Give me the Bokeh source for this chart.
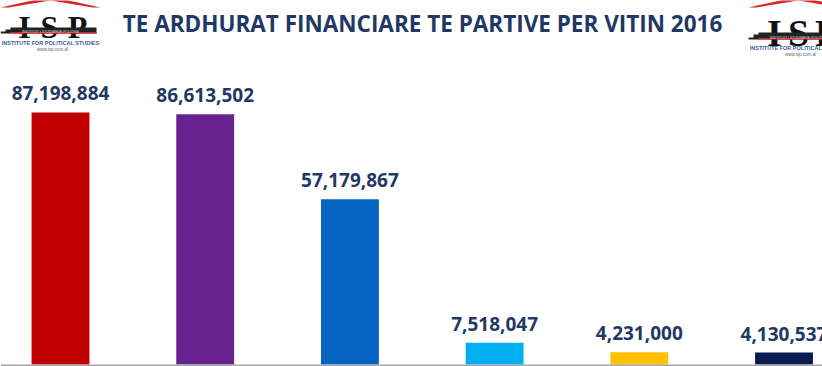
from bokeh.plotting import figure
from bokeh.models import ColumnDataSource, Range1d, Label, LabelSet, PolyAnnotation, BoxAnnotation
from bokeh.core.properties import value
from bokeh.embed import file_html
from bokeh.resources import INLINE

# ---- data ----
positions = [0, 1, 2, 3, 4, 5]
values = [87198884, 86613502, 57179867, 7518047, 4231000, 4130537]
colors = ["#C00000", "#68228F", "#0563C1", "#00B0F0", "#FFC000", "#0B1A52"]
title_text = "TE ARDHURAT FINANCIARE TE PARTIVE PER VITIN 2016"

W, H = 822, 366
NAVY = "#1F3864"

src = ColumnDataSource(dict(
    x=positions,
    top=values,
    color=colors,
    label=[f"{v:,}" for v in values],
))

p = figure(width=W, height=H, output_backend="svg", toolbar_location=None,
           x_range=Range1d(-0.4147, 5.266), y_range=Range1d(-0.692e6, 125.95e6),
           min_border=0, outline_line_color=None)
p.axis.visible = False
p.grid.visible = False
p.background_fill_color = "white"
p.border_fill_color = "white"

# baseline (grey floor)
p.add_layout(BoxAnnotation(top=0, fill_color="#A6A6A6", fill_alpha=1.0, line_color=None))

p.vbar(x="x", top="top", bottom=0, width=0.40, color="color", line_color=None, source=src)
p.add_layout(LabelSet(x="x", y="top", text="label", source=src, text_align="center",
                      text_baseline="alphabetic", y_offset=12, text_color=NAVY,
                      text_font=value("Open Sans"), text_font_style="bold",
                      text_font_size="19px"))


def sx(px):
    return px


def sy(py):
    return H - py


p.add_layout(Label(x=sx(422), y=sy(23), x_units="screen", y_units="screen", text=title_text,
                   text_align="center", text_baseline="alphabetic", text_color=NAVY,
                   text_font="Open Sans", text_font_style="bold", text_font_size="22.5px"))


def logo(dx, isp_size, isp_base, letter_x, band_top, band_h, txt_base, www_base):
    # roof
    rx = [0, 50, 100, 92, 50, 8]
    ry = [7, -4, 7, 7, 0, 7]
    p.add_layout(PolyAnnotation(xs=[sx(dx + a) for a in rx], ys=[sy(b) for b in ry],
                                xs_units="screen", ys_units="screen",
                                fill_color="#D9262B", fill_alpha=1.0, line_color=None))
    for ch, cx in zip("ISP", letter_x):
        p.add_layout(Label(x=sx(cx), y=sy(isp_base), x_units="screen", y_units="screen",
                           text=ch, text_color="#111111", text_font="Liberation Serif",
                           text_font_style="bold", text_font_size=f"{isp_size}px",
                           text_align="center", text_baseline="alphabetic"))
    # stepped band
    bx = [0, 0, 5, 5, 10, 10, 96, 96]
    by = [band_top + band_h, band_top + band_h - 2, band_top + band_h - 2, band_top + 2,
          band_top + 2, band_top, band_top, band_top + band_h]
    p.add_layout(PolyAnnotation(xs=[sx(dx + a) for a in bx], ys=[sy(b) for b in by],
                                xs_units="screen", ys_units="screen",
                                fill_color="#222222", fill_alpha=1.0, line_color=None))
    p.add_layout(PolyAnnotation(xs=[sx(dx + a) for a in [10, 96, 96, 10]],
                                ys=[sy(b) for b in [band_top + band_h - 1.5, band_top + band_h - 1.5,
                                                    band_top + band_h, band_top + band_h]],
                                xs_units="screen", ys_units="screen",
                                fill_color="#D9262B", fill_alpha=1.0, line_color=None))
    p.add_layout(Label(x=sx(dx + 50), y=sy(band_top + band_h - 2), x_units="screen", y_units="screen",
                       text="INSTITUTI I STUDIMEVE POLITIKE", text_color="#DDDDDD",
                       text_font="Liberation Sans", text_font_size="3.5px",
                       text_align="center", text_baseline="alphabetic"))
    p.add_layout(Label(x=sx(dx + 50), y=sy(txt_base), x_units="screen", y_units="screen",
                       text="INSTITUTE FOR POLITICAL STUDIES", text_color="#3A5A99",
                       text_font="Liberation Sans", text_font_style="bold", text_font_size="5.5px",
                       text_align="center", text_baseline="alphabetic"))
    p.add_layout(Label(x=sx(dx + 52), y=sy(www_base), x_units="screen", y_units="screen",
                       text="www.isp.com.al", text_color="#666666",
                       text_font="Liberation Sans", text_font_size="4.5px",
                       text_align="center", text_baseline="alphabetic"))


logo(0, 32, 26, [24, 49, 77], 27, 6, 42, 49)
logo(748, 38, 32, [774, 798, 826], 32, 7, 47, 54)

open("out.html", "w").write(file_html(p, INLINE))
